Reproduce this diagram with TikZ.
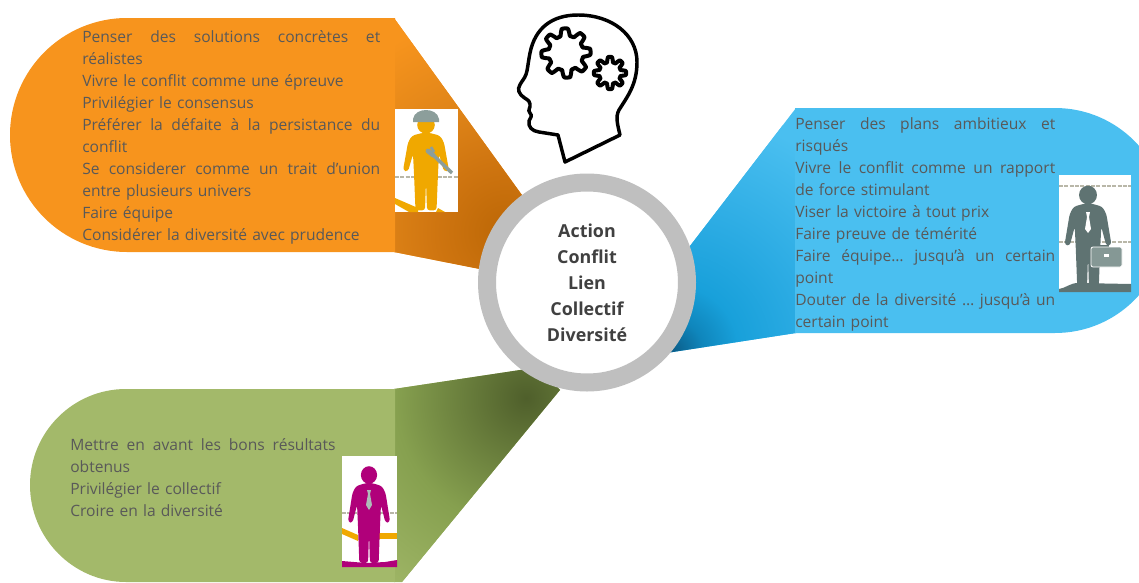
\documentclass[tikz,border=0pt]{standalone}
\usepackage{fontspec}
\setmainfont{Open Sans}
\definecolor{orangeflat}{HTML}{F7941D}
\definecolor{orangedark}{HTML}{BC6706}
\definecolor{orangemid}{HTML}{CF7510}
\definecolor{orangemidb}{HTML}{DF8418}
\definecolor{blueflat}{HTML}{4ABFF0}
\definecolor{bluedark}{HTML}{0B5E8A}
\definecolor{bluedeep}{HTML}{0F86BC}
\definecolor{bluemid}{HTML}{18A0DA}
\definecolor{bluemidb}{HTML}{2BABE3}
\definecolor{greenflat}{HTML}{A3B96A}
\definecolor{greendark}{HTML}{4F5F2B}
\definecolor{greenmid}{HTML}{86A04F}
\definecolor{ringgray}{HTML}{BFBFBF}
\definecolor{bodytext}{HTML}{595959}
\definecolor{hubtext}{HTML}{404040}
\definecolor{figamber}{HTML}{F0A800}
\definecolor{figslate}{HTML}{5F7372}
\definecolor{figmag}{HTML}{B0007A}
\definecolor{figgray}{HTML}{8C9E9B}
\definecolor{dashgray}{HTML}{B9B7A8}
\pgfdeclareradialshading{orangeglow}{\pgfpointorigin}{color(0bp)=(orangedark); color(7bp)=(orangemid); color(13bp)=(orangemidb); color(22bp)=(orangeflat); color(50bp)=(orangeflat)}
\pgfdeclareradialshading{blueglow}{\pgfpointorigin}{color(0bp)=(bluedark); color(3bp)=(bluedeep); color(6.5bp)=(bluemid); color(13bp)=(bluemidb); color(24bp)=(blueflat); color(50bp)=(blueflat)}
\pgfdeclareradialshading{greenglow}{\pgfpointorigin}{color(0bp)=(greendark); color(13bp)=(greenmid); color(25bp)=(greenflat); color(50bp)=(greenflat)}
\newcommand{\jl}[2]{\leavevmode\hbox to #1pt{\spaceskip=0.26em plus 1fil\relax #2}}
\newcommand{\personfig}[5]{%
  \begin{scope}[shift={(#1,#2)},xscale=#3,yscale=#4]
    \fill[#5] (0,0) circle (8.8);
    \fill[#5,rounded corners=2.2] (3,8) -- (14,11) -- (18,18) -- (23,47) -- (18,48) -- (13,30) -- (12,50) -- (10.5,88) -- (1,88) -- (0,58) -- (-1,88) -- (-10.5,88) -- (-12,50) -- (-13,30) -- (-18,48) -- (-23,47) -- (-18,18) -- (-14,11) -- (-3,8) -- cycle;
  \end{scope}}
\tikzset{
  blocktext/.style={anchor=north west,inner sep=0pt,align=left,text=bodytext,font=\fontsize{11.7}{16.5}\selectfont},
  hubtext/.style={inner sep=0pt,align=center,text=hubtext,font=\bfseries\fontsize{13.4}{19.5}\selectfont},
  figdash/.style={dashgray,line width=1.1pt,dash pattern=on 3pt off 1pt},
  iconline/.style={black,line width=2.6pt,line join=round,line cap=round}
}
\begin{document}
\begin{tikzpicture}[x=0.75pt,y=-0.75pt]
\useasboundingbox (0,0) rectangle (1139,582);
\clip (0,0) rectangle (1139,582);

% tails with glow
\begin{scope}
  \clip (394,18) -- (540,220) -- (500,273) -- (394,252) -- cycle;
  \fill[orangeflat] (380,10) rectangle (560,290);
  \shade[shading=orangeglow] (506,232) circle (250);
\end{scope}
\begin{scope}
  \clip (796,108) -- (670,272) -- (660,354) -- (796,333) -- cycle;
  \fill[blueflat] (650,100) rectangle (800,360);
  \shade[shading=blueglow] (673,350) circle (250);
\end{scope}
\begin{scope}
  \clip (394,389) -- (540,367) -- (560,390) -- (402,582) -- (394,582) -- cycle;
  \fill[greenflat] (390,360) rectangle (570,582);
  \shade[shading=greenglow] (526,398) circle (250);
\end{scope}

% flat lobes
\fill[orangeflat] (395,18) -- (127,18) .. controls (62.4,18) and (10,70.4) .. (10,135) .. controls (10,199.6) and (62.4,252) .. (127,252) -- (395,252) -- cycle;
\fill[blueflat] (795,108) -- (1055,108) .. controls (1117,108) and (1167,158) .. (1167,220.5) .. controls (1167,283) and (1117,333) .. (1055,333) -- (795,333) -- cycle;
\fill[greenflat] (395,389) -- (126,389) .. controls (73,389) and (30,432) .. (30,485) .. controls (30,538) and (73,582) .. (126,582) -- (395,582) -- cycle;

% hub
\node[circle,draw=ringgray,line width=13.5pt,fill=white,minimum size=150pt,inner sep=0pt] (hub) at (587,282.5) {};
\node[hubtext] (hublabel) at (587,283) {Action\\Conflit\\Lien\\Collectif\\Diversité};

% texts
\node[blocktext,text width=223.5pt] (orangetext) at (82,30.5) {%
\jl{223.5}{Penser des solutions concrètes et}\\
réalistes\\
Vivre le conflit comme une épreuve\\
Privilégier le consensus\\
\jl{223.5}{Préférer la défaite à la persistance du}\\
conflit\\
\jl{223.5}{Se considerer comme un trait d’union}\\
entre plusieurs univers\\
Faire équipe\\
Considérer la diversité avec prudence};
\node[blocktext,text width=195pt] (bluetext) at (795,117.5) {%
\jl{195}{Penser des plans ambitieux et}\\
risqués\\
\jl{195}{Vivre le conflit comme un rapport}\\
de force stimulant\\
Viser la victoire à tout prix\\
Faire preuve de témérité\\
\jl{195}{Faire équipe… jusqu’à un certain}\\
point\\
\jl{195}{Douter de la diversité … jusqu’à un}\\
certain point};
\node[blocktext,text width=199pt] (greentext) at (70,438.5) {%
\jl{199}{Mettre en avant les bons résultats}\\
obtenus\\
Privilégier le collectif\\
Croire en la diversité};

% builder figure
\fill[white] (395,109) rectangle (458,212);
\draw[figdash] (395,177) -- (458,177);
\fill[figamber] (395,198) -- (418,208) -- (418,212) -- (409,212) -- (395,204) -- cycle;
\fill[figamber] (438,208) -- (445,212) -- (436,212) -- cycle;
\personfig{426}{125}{1.0}{0.97}{figamber}
\fill[figgray] (413,122) -- (413,119) .. controls (415,107) and (437,107) .. (439,119) -- (439,122) -- cycle;
\draw[figgray,line width=2.6pt] (431,153) -- (452,173);
\draw[figgray,line width=3.6pt,line cap=round] (428,151) -- (433,155);
\draw[figgray,line width=2pt] (431,147) -- (434,152);

% businessman figure
\fill[white] (1059,175) rectangle (1131,292);
\draw[figdash] (1059,186) -- (1131,186);
\draw[figdash] (1059,242) -- (1131,242);
\fill[figslate] (1059,292) -- (1059,289) .. controls (1066,288) and (1070,283) .. (1078,283) -- (1131,284) -- (1131,292) -- cycle;
\personfig{1088}{195}{1.02}{1.06}{figslate}
\fill[white] (1086,212) -- (1090,212) -- (1089,217) -- (1091,229) -- (1088,233) -- (1085,229) -- (1087,217) -- cycle;
\fill[figslate] (1100,245) rectangle (1109,250);
\fill[white] (1102,247) rectangle (1107,250);
\draw[white,fill=figgray!85!figslate,line width=0.6pt,rounded corners=1.5] (1091,247) rectangle (1122,267);
\fill[white] (1104,254) rectangle (1109,257);

% manager figure
\fill[white] (342,456) rectangle (397,567);
\draw[figdash,line width=0.8pt] (342,513) -- (397,513);
\fill[figamber] (342,528) -- (358,535) -- (358,541) -- (342,534) -- cycle;
\fill[figamber] (378,533) rectangle (397,539);
\fill[figmag] (342,561) -- (366,563) -- (385,562) -- (397,560) -- (397,567) -- (342,567) -- cycle;
\personfig{369}{475}{0.92}{1.0}{figmag}
\fill[figgray!70!white] (367,490) -- (371,490) -- (370,494) -- (372,505) -- (369,510) -- (366,505) -- (368,494) -- cycle;

% head icon
\draw[iconline,fill=white] (620,135) -- (565,162) -- (558,135) -- (539,132)
  .. controls (532,131) and (528,127) .. (529,121)
  .. controls (530,118) and (533,116) .. (530,113)
  .. controls (527,110) and (531,108) .. (530,104)
  .. controls (529,99) and (526,100) .. (521,95)
  .. controls (517,90) and (518,87) .. (523,80)
  .. controls (528,73) and (527,68) .. (530,53)
  .. controls (535,28) and (552,15) .. (578,15)
  .. controls (612,15) and (637,35) .. (637,62)
  .. controls (637,85) and (627,97) .. (619,110)
  .. controls (615,117) and (618,126) .. (620,135);
\draw[iconline,line width=3pt] plot[domain=0:360,samples=145] ({566+(21+3.6*max(-1,min(1,1.8*cos(8*\x+22))))*cos(\x)},{53+(21+3.6*max(-1,min(1,1.8*cos(8*\x+22))))*sin(\x)}) -- cycle;
\draw[iconline,line width=3pt] plot[domain=0:360,samples=145] ({610+(13.5+2.6*max(-1,min(1,1.8*cos(8*\x))))*cos(\x)},{73+(13.5+2.6*max(-1,min(1,1.8*cos(8*\x))))*sin(\x)}) -- cycle;
\end{tikzpicture}
\end{document}
